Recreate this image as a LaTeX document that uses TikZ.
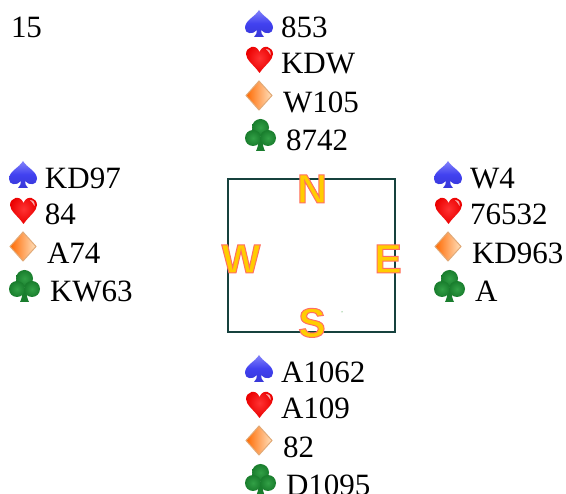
\documentclass[tikz,border=0pt]{standalone}
\usepackage{fontspec}
\setmainfont{Liberation Serif}
\newfontfamily\compassfont{Liberation Sans}[Scale=1]
\definecolor{boxline}{RGB}{22,66,62}
\definecolor{lettergold}{RGB}{255,205,0}
\definecolor{spadetop}{RGB}{130,130,250}
\definecolor{spademid}{RGB}{65,65,240}
\definecolor{spadelow}{RGB}{55,55,215}
\definecolor{clubin}{RGB}{50,160,70}
\definecolor{clubout}{RGB}{25,125,45}
\definecolor{diamleft}{RGB}{255,105,0}
\definecolor{diammid}{RGB}{255,140,35}
\definecolor{diamright}{RGB}{255,225,190}
\definecolor{diamedge}{RGB}{225,170,120}
\tikzset{
  handtext/.style={anchor=base west,inner sep=0pt,outer sep=0pt,text=black,font=\fontsize{31}{36}\selectfont},
  compass/.style={anchor=base,inner sep=0pt,outer sep=0pt,text=lettergold,
    font=\compassfont\bfseries\fontsize{41}{48}\selectfont},
  pics/spadeicon/.style={code={
    \shade[top color=spadetop,bottom color=spadelow,middle color=spademid]
      (14,0) .. controls (10,7) and (0,10) .. (0,18) .. controls (0,24) and (8,25) .. (12,20)
      .. controls (12,23) and (11,25) .. (9,27) -- (19,27) .. controls (17,25) and (16,23) .. (16,20)
      .. controls (20,25) and (28,24) .. (28,18) .. controls (28,10) and (18,7) .. (14,0) -- cycle;
  }},
  pics/hearticon/.style={code={
    \shade[inner color=red!80!white,outer color=red!92!black]
      (13.5,27) .. controls (8,19) and (0,14) .. (0,8) .. controls (0,1) and (10,-3) .. (13.5,6)
      .. controls (17,-3) and (27,1) .. (27,8) .. controls (27,14) and (19,19) .. (13.5,27) -- cycle;
    \fill[white,opacity=.65] (20,3) .. controls (24,3) and (25,6) .. (24.5,9) .. controls (23.5,7) and (22,5) .. (20,3) -- cycle;
  }},
  pics/diamondicon/.style={code={
    \shade[left color=diamleft,middle color=diammid,right color=diamright,draw=diamedge,line width=1pt]
      (13,0) -- (26,14.5) -- (13,29) -- (0,14.5) -- cycle;
  }},
  pics/clubicon/.style={code={
    \fill[clubout] (13.5,20) .. controls (13.5,27) and (12,30) .. (11,32) -- (20,32) .. controls (19,30) and (17.5,27) .. (17.5,20) -- cycle;
    \shade[inner color=clubin,outer color=clubout] (15.5,8.5) circle[radius=8.5];
    \shade[inner color=clubin,outer color=clubout] (8,19) circle[radius=8];
    \shade[inner color=clubin,outer color=clubout] (23,19) circle[radius=8];
  }},
}
\begin{document}
\begin{tikzpicture}[x=1pt,y=-1pt]
\useasboundingbox (0,0) rectangle (566,494);
\clip (0,0) rectangle (566,494);
\fill[white] (0,0) rectangle (566,494);

\node[handtext] (deal) at (11,38) {15};

\draw[boxline,line width=1.3pt] (228,179) rectangle (395,332);
\fill[green!50!black] (342,312) circle[radius=.5];

\foreach \nm/\tx/\ty/\glyph in {nn/312/203/N,ww/241/273/W,ee/388/273/E,ss/312/337/S}
  \node[compass] (\nm) at (\tx,\ty) {\special{pdf:literal 2 Tr 1 w 1 0.43 0.39 RG}\glyph\special{pdf:literal 0 Tr}};

% North
\pic at (245,10) {spadeicon};
\pic at (246,46) {hearticon};
\pic at (246,81) {diamondicon};
\pic at (245,119) {clubicon};
\node[handtext] (ns) at (281,38) {853};
\node[handtext] (nh) at (281,74) {KDW};
\node[handtext] (nd) at (283,113) {W105};
\node[handtext] (nc) at (286,151) {8742};

% West
\pic at (9,161) {spadeicon};
\pic at (10,197) {hearticon};
\pic at (10,232) {diamondicon};
\pic at (9,270) {clubicon};
\node[handtext] (ws) at (45,189) {KD97};
\node[handtext] (wh) at (45,225) {84};
\node[handtext] (wd) at (47,264) {A74};
\node[handtext] (wc) at (50,302) {KW63};

% East
\pic at (434,161) {spadeicon};
\pic at (435,197) {hearticon};
\pic at (435,232) {diamondicon};
\pic at (434,270) {clubicon};
\node[handtext] (es) at (470,189) {W4};
\node[handtext] (eh) at (470,225) {76532};
\node[handtext] (ed) at (472,264) {KD963};
\node[handtext] (ec) at (475,302) {A};

% South
\pic at (245,355) {spadeicon};
\pic at (246,391) {hearticon};
\pic at (246,426) {diamondicon};
\pic at (245,464) {clubicon};
\node[handtext] (ss1) at (281,383) {A1062};
\node[handtext] (sh) at (281,419) {A109};
\node[handtext] (sd) at (283,458) {82};
\node[handtext] (sc) at (286,496) {D1095};
\end{tikzpicture}
\end{document}
